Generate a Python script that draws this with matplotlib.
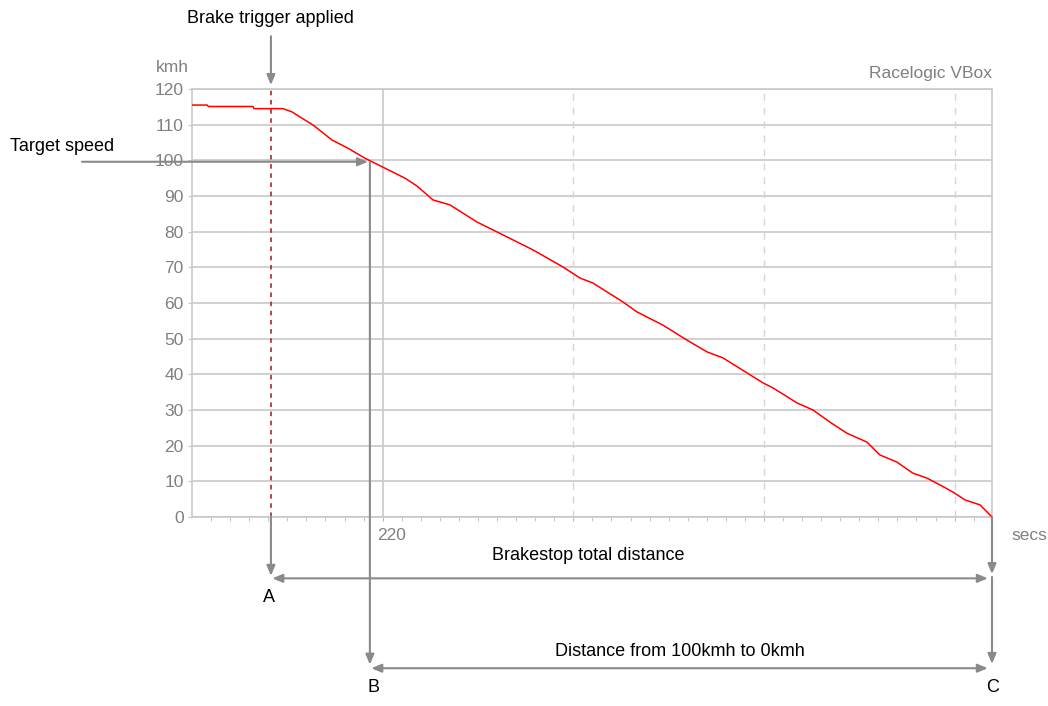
import matplotlib
matplotlib.use("Agg")
import matplotlib.pyplot as plt
import numpy as np

# ---- data ----
time_x = [210.0, 210.8, 210.85, 213.2, 213.25, 214.77, 215.24, 215.77, 216.35, 217.34,
          218.18, 219.07, 220.12, 221.17, 221.8, 222.64, 223.53, 224.95, 226.31, 227.88,
          229.46, 230.35, 231.03, 232.6, 233.34, 234.7, 235.96, 237.01, 237.85, 239.11,
          239.95, 240.47, 241.73, 242.57, 243.46, 244.35, 245.4, 246.08, 246.97, 247.81,
          248.55, 249.23, 249.91, 250.54, 251.33, 251.96]
speed_kmh = [115.5, 115.5, 115.1, 115.1, 114.5, 114.5, 113.6, 111.8, 109.9, 105.7,
             103.4, 100.6, 97.8, 95.0, 92.8, 88.9, 87.5, 82.7, 79.1, 74.9,
             70.1, 67.0, 65.6, 60.3, 57.5, 53.8, 49.6, 46.3, 44.6, 40.4,
             37.6, 36.2, 32.0, 30.0, 26.6, 23.5, 21.0, 17.4, 15.4, 12.3,
             10.9, 9.0, 7.0, 4.8, 3.4, 0.0]
brake_trigger_x = 214.14
target_speed = 100
target_x = 219.33
end_x = 251.96
y_ticks = list(range(0, 130, 10))
x_label_tick = 220
x_major = [220, 230, 240, 250]

GRID = "#c8c8c8"
TICKC = "#808080"
ARROW = "#8a8a8a"

W, H = 1048, 706
fig = plt.figure(figsize=(W / 100, H / 100), dpi=100)
L, R, T, B = 192, 992, 89, 517
ax = fig.add_axes([L / W, (H - B) / H, (R - L) / W, (B - T) / H])
plt.rcParams['font.family'] = ['Liberation Sans', 'DejaVu Sans']
FONT = 'Liberation Sans'
FS = 12.5   # grey axis texts
FSB = 13    # black annotation texts

ax.set_xlim(210, end_x)
ax.set_ylim(0, 120)
for s in ax.spines.values():
    s.set_color(GRID)
    s.set_linewidth(1.2)

# grid
for y in y_ticks:
    ax.axhline(y, color=GRID, lw=1.2, zorder=1)
for xm in x_major:
    if xm == x_label_tick:
        ax.axvline(xm, color=GRID, lw=1.2, zorder=1)
    else:
        ax.axvline(xm, color="#d4d4d4", lw=1.0, ls=(0, (5, 5)), zorder=1)

ax.set_yticks(y_ticks)
ax.set_yticklabels([str(v) for v in y_ticks], fontsize=FS, color=TICKC, family=FONT)
ax.tick_params(axis='y', length=3, color=GRID, pad=3)
ax.set_xticks(np.arange(211, 252, 1), minor=True)
ax.set_xticks(x_major)
ax.set_xticklabels([])
ax.tick_params(axis='x', which='both', length=3, color="#b8b8b8", direction='out')

# curve
ax.plot(time_x, speed_kmh, color="#ff0000", lw=1.1, zorder=3)

# brake trigger dashed
ax.plot([brake_trigger_x, brake_trigger_x], [0, 120], color="#a01818", lw=1.1,
        ls=(0, (3, 3)), zorder=2)

ap = dict(arrowstyle='-|>,head_length=0.6,head_width=0.25', color=ARROW, lw=1.5,
          shrinkA=0, shrinkB=0)
ap2 = dict(arrowstyle='<|-|>,head_length=0.6,head_width=0.25', color=ARROW, lw=1.5,
           shrinkA=3, shrinkB=1)

yA = -16.8
yB = -42.0

# brake trigger arrow from label
ax.annotate('', xy=(brake_trigger_x, 121.1), xytext=(brake_trigger_x, 134.8),
            arrowprops=ap, annotation_clip=False)
ax.text(brake_trigger_x, 139.9, 'Brake trigger applied', ha='center', va='center',
        fontsize=FSB, color='black', family=FONT, clip_on=False)
ax.annotate('', xy=(brake_trigger_x, yA + 0.3), xytext=(brake_trigger_x, 0),
            arrowprops=ap, annotation_clip=False)
ax.annotate('', xy=(brake_trigger_x, yA - 0.4), xytext=(end_x, yA - 0.4),
            arrowprops=ap2, annotation_clip=False)
ax.text(brake_trigger_x - 0.1, -22.7, 'A', ha='center', va='center', fontsize=FSB,
        family=FONT, clip_on=False)
ax.text(230.8, -10.9, 'Brakestop total distance', ha='center', va='center',
        fontsize=FSB, family=FONT, clip_on=False)

# target speed
ax.annotate('', xy=(target_x - 0.1, target_speed - 0.4), xytext=(204.23, target_speed - 0.4),
            arrowprops=ap, annotation_clip=False)
ax.text(200.45, 104.0, 'Target speed', ha='left', va='center', fontsize=FSB,
        family=FONT, clip_on=False)
ax.annotate('', xy=(target_x, yB + 0.6), xytext=(target_x, target_speed - 0.4),
            arrowprops=ap, annotation_clip=False)
ax.annotate('', xy=(target_x, yB - 0.4), xytext=(end_x, yB - 0.4),
            arrowprops=ap2, annotation_clip=False)
ax.text(target_x + 0.2, -47.9, 'B', ha='center', va='center', fontsize=FSB,
        family=FONT, clip_on=False)
ax.text(235.6, -37.8, 'Distance from 100kmh to 0kmh', ha='center', va='center',
        fontsize=FSB, family=FONT, clip_on=False)

# C vertical
ax.annotate('', xy=(end_x, yA + 0.8), xytext=(end_x, 0),
            arrowprops=ap, annotation_clip=False)
ax.annotate('', xy=(end_x, yB + 0.8), xytext=(end_x, yA),
            arrowprops=ap, annotation_clip=False)
ax.text(end_x + 0.05, -47.9, 'C', ha='center', va='center', fontsize=FSB,
        family=FONT, clip_on=False)

# axis labels
ax.text(208.95, 125.9, 'kmh', ha='center', va='center', fontsize=FS, color=TICKC,
        family=FONT, clip_on=False)
ax.text(end_x, 124.3, 'Racelogic VBox', ha='right', va='center', fontsize=FS,
        color=TICKC, family=FONT, clip_on=False)
ax.text(253.0, -5.3, 'secs', ha='left', va='center', fontsize=FS, color=TICKC,
        family=FONT, clip_on=False)
ax.text(x_label_tick - 0.27, -5.3, str(x_label_tick), ha='left', va='center',
        fontsize=FS, color=TICKC, family=FONT, clip_on=False)

fig.savefig('out.png', dpi=100, facecolor='white')
